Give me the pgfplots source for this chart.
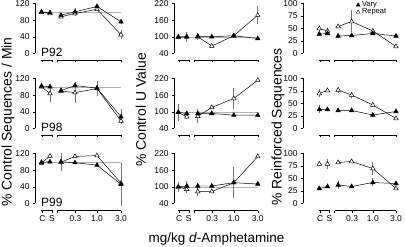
\documentclass[border=0pt]{standalone}
\usepackage{fontspec}
\setmainfont{Liberation Sans}
\usepackage{pgfplots}
\usepackage{pgfplotstable}
\pgfplotsset{compat=1.18}

% columns: x, vary, vary err, repeat, repeat err
\pgfplotstableread{
x v ve r re
0 100 3 99 0
8.5 98 3 96 0
14 nan 0 nan 0
19.5 92 4 88 3
33.5 100 10 96 0
55.5 113 3 106 0
79.5 76 5 45 11
}\dA
\pgfplotstableread{
x v ve r re
0 102 5 100 0
8.5 100 0 84 20
14 nan 0 nan 0
19.5 91 3 90 3
33.5 103 3 86 25
55.5 97 18 96 0
79.5 28 18 18 8
}\dB
\pgfplotstableread{
x v ve r re
0 99 0 97 4
8.5 100 0 114 5
14 nan 0 nan 0
19.5 100 22 99 0
33.5 98 0 113 3
55.5 92 3 115 0
79.5 46 52 49 0
}\dC
\pgfplotstableread{
x v ve r re
0 100 6 99 0
8.5 100 18 100 0
14 nan 0 nan 0
19.5 102 12 100 0
33.5 100 0 67 4
55.5 104 3 104 0
79.5 94 0 178 32
}\dD
\pgfplotstableread{
x v ve r re
0 98 30 98 0
8.5 94 0 82 8
14 nan 0 nan 0
19.5 94 0 84 25
33.5 94 0 116 0
55.5 88 0 148 38
79.5 88 0 214 0
}\dE
\pgfplotstableread{
x v ve r re
0 100 18 100 0
8.5 103 18 91 12
14 nan 0 nan 0
19.5 103 0 83 15
33.5 103 0 83 0
55.5 115 57 115 0
79.5 110 0 209 0
}\dF
\pgfplotstableread{
x v ve r re
0 39 0 50 5
8.5 40 0 45 5
14 nan 0 nan 0
19.5 35 0 54 0
33.5 36 0 64 22
55.5 40 0 45 0
79.5 35 0 14 0
}\dG
\pgfplotstableread{
x v ve r re
0 38 8 70 8
8.5 38 0 76 0
14 nan 0 nan 0
19.5 36 0 77 6
33.5 36 0 67 6
55.5 27 0 47 0
79.5 34 0 20 0
}\dH
\pgfplotstableread{
x v ve r re
0 30 0 79 0
8.5 34 0 79 10
14 nan 0 nan 0
19.5 37 8 82 0
33.5 34 0 84 0
55.5 42 8 70 13
79.5 40 0 30 0
}\dI

\tikzset{axln/.style={black, line width=0.6pt}}
\pgfplotsset{
  vary/.style={black, line width=0.5pt, mark=triangle*, mark size=2.6pt,
    mark options={fill=black, solid},
    error bars/.cd, y dir=both, y explicit, error mark=none,
    error bar style={black!55, line width=0.7pt}},
  rep/.style={black, line width=0.5pt, mark=triangle*, mark size=2.6pt,
    mark options={fill=white, solid},
    error bars/.cd, y dir=both, y explicit, error mark=none,
    error bar style={black!55, line width=0.7pt}},
  panel/.style={scale only axis, height=57bp, xmax=82, clip=false,
    axis lines*=left, axis line style={draw=none,-},
    tick align=outside, major tick length=2bp,
    tick style={draw=black, line width=0.5pt},
    xtick={1,10.5,16,34,55.5,79.5},
    xticklabels={},
    ticklabel style={font=\fontsize{8.5}{9}\selectfont},
    /pgf/number format/assume math mode=true,
    unbounded coords=jump},
  bottomrow/.style={xticklabels={C,S,,0.3,1.0,3.0}},
  col1/.style={panel, xmin=-6.5, width=88.5bp, ymin=-16.8, ymax=120, ytick={0,40,80,120}},
  col2/.style={panel, xmin=-4.3, width=86.3bp, ymin=14.8, ymax=220, ytick={40,100,160,220}},
  col3/.style={panel, xmin=-16.9, width=95.4bp, ymin=-14, ymax=100, ytick={0,25,50,75,100}},
}
% xmin, ybottom, ytop, ymin
\newcommand{\deco}[4]{%
  \draw[axln] (axis cs:#1,#2) -- (axis cs:#1,#3);
  \draw[axln] (axis cs:-0.8,#4) -- (axis cs:11.5,#4);
  \draw[axln] (axis cs:16,#4) -- (axis cs:79.5,#4);
}
\newcommand{\refline}{\draw[black!30, line width=0.5pt] (axis cs:0,100) -- (axis cs:80,100);}
\newcommand{\series}[1]{%
  \addplot[rep] table[x=x, y=r, y error=re]{#1};
  \addplot[vary] table[x=x, y=v, y error=ve]{#1};
}
\newcommand{\plab}[1]{\node[anchor=base west, font=\fontsize{12}{12}\selectfont, inner sep=0pt] at (axis cs:-0.5,-7) {#1};}

\begin{document}
\begin{tikzpicture}
\useasboundingbox (0,0) rectangle (405bp,247bp);

% ---------- column 1 ----------
\begin{axis}[col1, at={(35bp,186.5bp)}, anchor=south west]
\refline
\series{\dA}
\deco{-6.5}{0}{120}{-16.8}
\plab{P92}
\end{axis}
\begin{axis}[col1, at={(35bp,111.5bp)}, anchor=south west]
\refline
\series{\dB}
\deco{-6.5}{0}{120}{-16.8}
\plab{P98}
\end{axis}
\begin{axis}[col1, bottomrow, at={(35bp,36.5bp)}, anchor=south west]
\refline
\series{\dC}
\deco{-6.5}{0}{120}{-16.8}
\plab{P99}
\end{axis}

% ---------- column 2 ----------
\begin{axis}[col2, at={(174bp,186.5bp)}, anchor=south west]
\refline
\series{\dD}
\deco{-4.3}{40}{220}{14.8}
\end{axis}
\begin{axis}[col2, at={(174bp,111.5bp)}, anchor=south west]
\refline
\series{\dE}
\deco{-4.3}{40}{220}{14.8}
\end{axis}
\begin{axis}[col2, bottomrow, at={(174bp,36.5bp)}, anchor=south west]
\refline
\series{\dF}
\deco{-4.3}{40}{220}{14.8}
\end{axis}

% ---------- column 3 ----------
\begin{axis}[col3, at={(303bp,186.5bp)}, anchor=south west,
  legend style={at={(axis description cs:0.556,1.07)}, anchor=north west,
    draw=none, fill=none, font=\fontsize{7.5}{8}\selectfont,
    row sep=-3.5pt, inner sep=0pt, cells={anchor=west}},
  legend image code/.code={\draw[#1, only marks] plot coordinates {(2.5bp,0bp)};}]
\addlegendimage{black, mark=triangle*, mark size=2.2pt, mark options={fill=black}}
\addlegendentry{Vary}
\addlegendimage{black, mark=triangle*, mark size=2.2pt, mark options={fill=white}}
\addlegendentry{Repeat}
\series{\dG}
\deco{-16.9}{0}{100}{-14}
\end{axis}
\begin{axis}[col3, at={(303bp,111.5bp)}, anchor=south west]
\series{\dH}
\deco{-16.9}{0}{100}{-14}
\end{axis}
\begin{axis}[col3, bottomrow, at={(303bp,36.5bp)}, anchor=south west]
\series{\dI}
\deco{-16.9}{0}{100}{-14}
\end{axis}

% ---------- axis titles ----------
\node[rotate=90, font=\fontsize{14}{14}\selectfont] at (8bp,125bp) {\% Control Sequences / Min};
\node[rotate=90, font=\fontsize{14}{14}\selectfont] at (141bp,137bp) {\% Control U Value};
\node[rotate=90, font=\fontsize{14}{14}\selectfont] at (278bp,120bp) {\% Reinforced Sequences};
\node[anchor=base, font=\fontsize{13.5}{14}\selectfont] at (216.5bp,5bp) {mg/kg \textit{d}-Amphetamine};
\end{tikzpicture}
\end{document}
